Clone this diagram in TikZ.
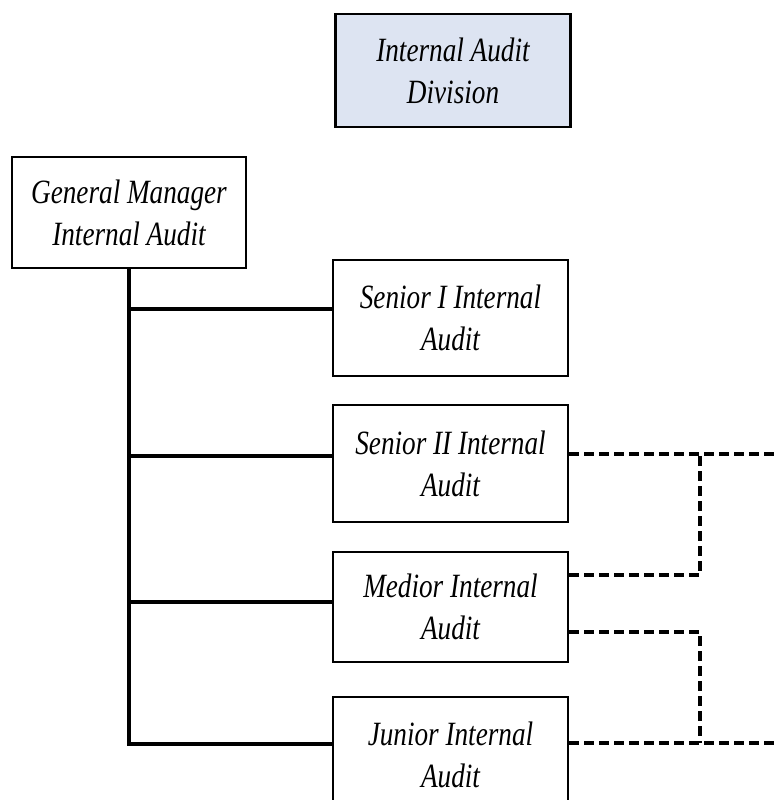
\documentclass[tikz,border=0pt]{standalone}
\usepackage{fontspec}
\setmainfont[FakeStretch=0.8]{Liberation Serif}
\usetikzlibrary{positioning}
\definecolor{divblue}{RGB}{221,228,242}
\tikzset{
  box/.style={draw, line width=2.5pt, minimum width=235pt, minimum height=116pt,
    align=center, inner sep=0pt, font=\fontsize{34}{42}\selectfont\itshape},
  link/.style={line width=4pt},
  dashlink/.style={line width=4pt, dash pattern=on 10pt off 5pt}
}

\begin{document}
\begin{tikzpicture}[x=1pt,y=-1pt]
            \useasboundingbox (0,0) rectangle (774,800);
            \clip (0,0) rectangle (774,800);

            \node[box, fill=divblue, minimum height=113pt] (div) at (453,70.5) {Internal Audit\\Division};
            \node[box, minimum width=234pt, minimum height=111pt] (gm) at (129,212.5) {General Manager\\Internal Audit};

            \node[box] (s1) at (450.5,318) {Senior I Internal\\Audit};
            \node[box, minimum height=117pt] (s2) at (450.5,463.5) {Senior II Internal\\Audit};
            \node[box, minimum height=110pt] (med) at (450.5,607) {Medior Internal\\Audit};
            \node[box] (jun) at (450.5,755) {Junior Internal\\Audit};

            % solid reporting lines
            \coordinate (s1in) at ([yshift=9pt]s1.west);
            \coordinate (s2in) at ([yshift=7.5pt]s2.west);
            \coordinate (medin) at ([yshift=5pt]med.west);
            \coordinate (junin) at ([yshift=11pt]jun.west);
            \draw[link] (gm.south) |- (junin);
            \draw[link] (gm.south |- s1in) -- (s1in);
            \draw[link] (gm.south |- s2in) -- (s2in);
            \draw[link] (gm.south |- medin) -- (medin);

            % dashed lines
            \coordinate (tap) at (700,0);
            \coordinate (edge) at (780,0);
            \coordinate (s2out) at ([yshift=9.5pt]s2.east);
            \coordinate (medup) at ([yshift=32pt]med.east);
            \coordinate (meddown) at ([yshift=-25pt]med.east);
            \coordinate (junout) at ([yshift=12pt]jun.east);
            \draw[dashlink] (s2out) -- (s2out -| edge);
            \draw[dashlink] (medup) -| (tap |- s2out);
            \draw[dashlink] (meddown) -| (tap |- junout);
            \draw[dashlink] (junout) -- (junout -| edge);
        \end{tikzpicture}
\end{document}
